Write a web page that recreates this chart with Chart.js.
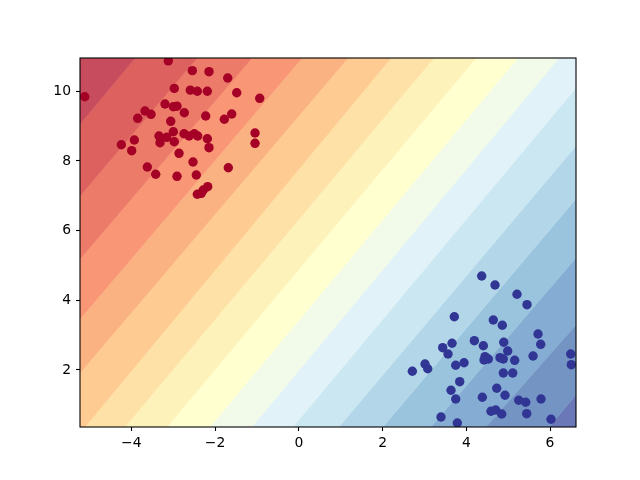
<!DOCTYPE html>
<html>
<head>
<meta charset="utf-8">
<script src="https://cdn.jsdelivr.net/npm/chart.js@4.4.1/dist/chart.umd.min.js"></script>
<style>
html,body{margin:0;padding:0;background:#fff;}
canvas{display:block;}
</style>
</head>
<body>
<canvas id="c" width="640" height="480"></canvas>
<script>
// ---- axis limits and tick labels ----
const xRange = [-5.226, 6.62];
const yRange = [0.364, 10.953];
const xTicks = [-4, -2, 0, 2, 4, 6];
const yTicks = [2, 4, 6, 8, 10];

// ---- decision-region boundaries (y at left edge / right edge of the plot) ----
const boundaryLeftY  = [9.059, 6.993, 5.185, 3.463, 1.914, 0.192, -1.177, -2.617, -4.103, -5.567, -6.958, -8.45, -9.905, -11.38, -12.835, -15.82];
const boundaryRightY = [26.14, 23.78, 21.82, 20.20, 18.64, 17.35, 15.82, 14.38, 12.95, 11.54, 10.09, 8.427, 6.907, 5.214, 3.291, 1.283];

// ---- band colours (RdYlBu at band mid-levels), red -> blue ----
const bandColors = [
  [180,14,38],[209,42,39],[229,77,52],[245,113,69],[250,151,86],[253,186,108],
  [254,215,136],[254,237,163],[255,255,191],[237,248,225],[215,238,245],
  [183,223,237],[152,201,225],[119,176,210],[91,143,194],[67,110,176],[55,73,158]
];
const bandAlpha = 0.74;
const pointColors = ['#a50026', '#313695'];

// ---- class 0 points (red) ----
const redX = [-3.117,-2.544,-2.145,-1.698,-5.113,-2.974,-2.591,-2.424,-2.185,-1.483,-0.934,-3.196,-2.997,-2.91,-2.735,-3.673,-3.530,-3.848,-2.224,-1.603,-1.779,-3.059,-1.046,-1.046,-3.339,-3.155,-2.997,-2.742,-2.622,-2.496,-2.415,-2.185,-2.145,-2.974,-3.315,-3.929,-4.239,-3.991,-2.861,-2.527,-3.618,-1.684,-3.418,-2.909,-2.448,-2.176,-2.281,-2.424,-2.33];
const redY = [10.87,10.59,10.56,10.38,9.84,10.08,10.03,10.00,10.00,9.957,9.796,9.633,9.555,9.57,9.383,9.432,9.337,9.222,9.288,9.346,9.194,9.136,8.80,8.505,8.714,8.677,8.838,8.78,8.714,8.78,8.714,8.637,8.379,8.551,8.522,8.60,8.465,8.293,8.218,7.968,7.825,7.805,7.616,7.558,7.595,7.26,7.165,7.042,7.07];

// ---- class 1 points (blue) ----
const blueX = [4.368,4.686,5.211,5.450,3.714,4.645,4.860,5.713,5.777,4.192,4.407,4.894,4.989,3.659,3.437,3.563,4.447,4.526,4.423,4.805,4.884,5.156,5.594,6.494,6.508,3.946,3.747,3.014,3.079,2.711,4.884,5.109,3.843,3.635,3.747,4.727,4.925,4.383,5.252,5.419,5.785,4.590,4.703,4.846,5.443,3.396,3.786,6.023];
const blueY = [4.697,4.439,4.172,3.874,3.529,3.435,3.283,3.033,2.737,2.841,2.697,2.795,2.545,2.766,2.640,2.459,2.382,2.316,2.287,2.353,2.316,2.278,2.402,2.459,2.152,2.209,2.135,2.172,2.037,1.963,1.914,1.914,1.664,1.418,1.168,1.475,1.274,1.217,1.131,1.073,1.168,0.815,0.852,0.737,0.746,0.651,0.479,0.585];

// ---- build chart ----
const rgba = (c, a) => `rgba(${c[0]},${c[1]},${c[2]},${a})`;
const toPts = (xs, ys) => xs.map((x, i) => ({x: x, y: ys[i]}));
const boundaryPts = i => [{x: xRange[0], y: boundaryLeftY[i]}, {x: xRange[1], y: boundaryRightY[i]}];

const datasets = [
  {label: 'class 0', data: toPts(redX, redY), backgroundColor: pointColors[0], pointRadius: 4.7, pointHoverRadius: 4.7, borderWidth: 0, showLine: false},
  {label: 'class 1', data: toPts(blueX, blueY), backgroundColor: pointColors[1], pointRadius: 4.7, pointHoverRadius: 4.7, borderWidth: 0, showLine: false}
];
for (let i = 0; i < boundaryLeftY.length; i++) {
  datasets.push({
    label: 'b' + i, data: boundaryPts(i), showLine: true, pointRadius: 0, borderWidth: 0.7,
    borderColor: rgba(bandColors[i], 0.35), tension: 0,
    fill: i === 0 ? 'end' : '-1', backgroundColor: rgba(bandColors[i], bandAlpha)
  });
}
datasets.push({
  label: 'b-last', data: boundaryPts(boundaryLeftY.length - 1), showLine: true, pointRadius: 0, borderWidth: 0,
  borderColor: 'rgba(0,0,0,0)', tension: 0, fill: 'start', backgroundColor: rgba(bandColors[16], bandAlpha)
});

const frame = {
  id: 'frame',
  afterDraw(chart) {
    const {ctx, chartArea: a} = chart;
    ctx.save();
    ctx.strokeStyle = '#000';
    ctx.lineWidth = 1.1;
    ctx.strokeRect(a.left, a.top, a.right - a.left, a.bottom - a.top);
    ctx.restore();
  }
};

const fmt = v => (v < 0 ? '\u2212' + Math.abs(v) : String(v));
const font = {family: 'DejaVu Sans', size: 13.9};

new Chart(document.getElementById('c'), {
  type: 'scatter',
  data: {datasets},
  options: {
    responsive: false, animation: false, devicePixelRatio: 1,
    layout: {padding: {left: 0, top: 58, right: 64, bottom: 0}},
    plugins: {legend: {display: false}, tooltip: {enabled: false}},
    scales: {
      x: {
        type: 'linear', min: xRange[0], max: xRange[1],
        afterBuildTicks: s => { s.ticks = xTicks.map(v => ({value: v})); },
        afterFit: s => { s.height = 53; },
        border: {display: false},
        grid: {drawOnChartArea: false, drawTicks: true, tickLength: 4, color: '#000', tickWidth: 1.1},
        ticks: {color: '#000', font, padding: 4, maxRotation: 0, callback: v => fmt(v)}
      },
      y: {
        type: 'linear', min: yRange[0], max: yRange[1],
        afterBuildTicks: s => { s.ticks = yTicks.map(v => ({value: v})); },
        afterFit: s => { s.width = 80; },
        border: {display: false},
        grid: {drawOnChartArea: false, drawTicks: true, tickLength: 4, color: '#000', tickWidth: 1.1},
        ticks: {color: '#000', font, padding: 5, callback: v => fmt(v)}
      }
    }
  },
  plugins: [frame]
});
</script>
</body>
</html>
